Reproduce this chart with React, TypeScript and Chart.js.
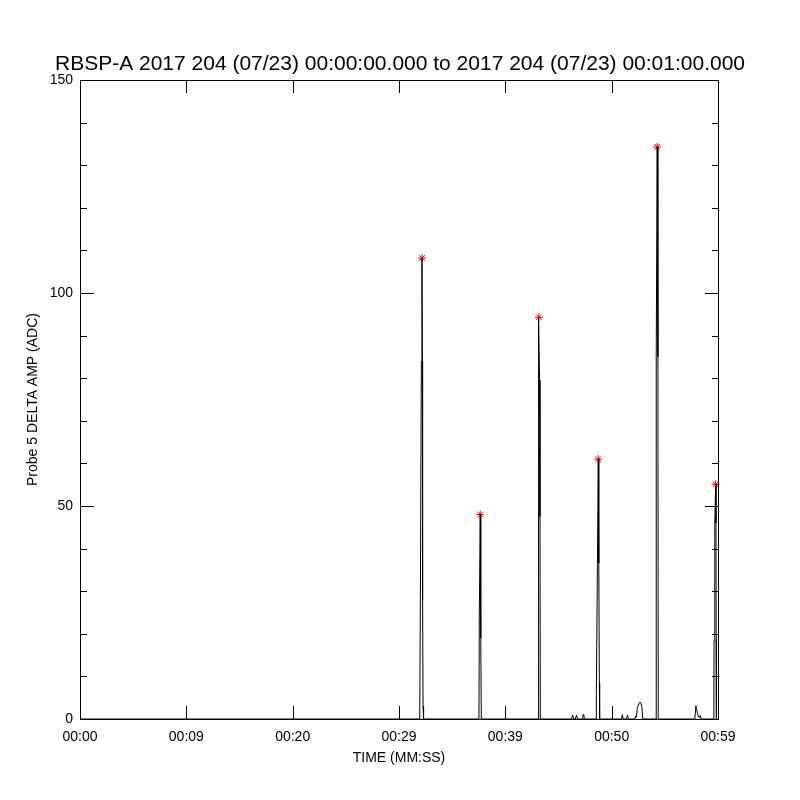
import React, { useEffect, useRef } from "react";
import { Chart, registerables } from "chart.js";

Chart.register(...registerables);

// ---- data (seconds after 00:00:00, amplitude in ADC) ----
const traceTimes = [
  0, 31.95, 32.01, 32.1, 32.16, 32.2, 32.22, 32.26, 32.31,
  37.52, 37.55, 37.64, 37.69, 37.74,
  43.08, 43.09, 43.16, 43.22, 43.26, 43.29,
  46.22, 46.33, 46.43, 46.58, 46.69, 46.79, 47.23, 47.29, 47.38, 47.43,
  48.54, 48.56, 48.66, 48.74, 48.79, 48.84, 48.87,
  50.92, 51.0, 51.09, 51.39, 51.49, 51.58,
  52.18, 52.26, 52.32, 52.41, 52.6, 52.73, 52.83, 52.93,
  54.17, 54.19, 54.28, 54.35, 54.38,
  57.82, 57.92, 57.97, 58.05, 58.15, 58.24, 58.33, 58.42,
  59.61, 59.63, 59.7, 59.78, 59.81, 59.83, 59.85,
];
const traceValues = [
  0, 0, 28, 84, 108.2, 84, 28, 3, 0,
  0, 24, 48, 19, 0,
  0, 47.5, 94.3, 79.6, 47.5, 0,
  0, 0.9, 0, 0, 0.9, 0, 0, 1.0, 1.0, 0,
  0, 6, 36.5, 61, 36.5, 8.4, 0,
  0, 1.0, 0, 0, 0.9, 0,
  0, 0.7, 0.4, 2.5, 3.9, 3.9, 3.0, 0,
  0, 85, 134.3, 85, 0,
  0, 3.1, 2.4, 1.6, 0.6, 0.3, 0.8, 0,
  0, 18.4, 46, 55.1, 46, 18.7, 0,
];
const peakTimes = [32.16, 37.64, 43.16, 48.74, 54.28, 59.78];
const peakValues = [108.2, 48, 94.3, 61, 134.3, 55.1];

const xTickValues = [0, 10, 20, 30, 40, 50, 60];
const xTickLabels = ["00:00", "00:09", "00:20", "00:29", "00:39", "00:50", "00:59"];
const yMajorTicks = [0, 50, 100, 150];
const yMinorTicks = [10, 20, 30, 40, 60, 70, 80, 90, 110, 120, 130, 140];

const titleText =
  "RBSP-A 2017 204 (07/23) 00:00:00.000 to 2017 204 (07/23) 00:01:00.000";
const xTitle = "TIME (MM:SS)";
const yTitle = "Probe 5 DELTA AMP (ADC)";

const FONT = "'Liberation Sans', Arial, sans-serif";

const framePlugin = {
  id: "idlFrame",
  afterDraw(chart: any) {
    const { ctx, chartArea: a, scales } = chart;
    const xs = scales.x;
    const ys = scales.y;
    ctx.save();
    ctx.strokeStyle = "#000";
    ctx.lineWidth = 1;
    ctx.strokeRect(a.left + 0.5, a.top + 0.5, a.right - a.left, a.bottom - a.top);
    const seg = (x1: number, y1: number, x2: number, y2: number) => {
      ctx.beginPath();
      ctx.moveTo(x1, y1);
      ctx.lineTo(x2, y2);
      ctx.stroke();
    };
    const yt = (v: number, len: number) => {
      const p = Math.round(ys.getPixelForValue(v)) + 0.5;
      seg(a.left, p, a.left + len, p);
      seg(a.right + 1, p, a.right + 1 - len, p);
    };
    yMajorTicks.forEach((v) => yt(v, 14));
    yMinorTicks.forEach((v) => yt(v, 7));
    xTickValues.forEach((v) => {
      const p = Math.round(xs.getPixelForValue(v)) + 0.5;
      seg(p, a.bottom, p, a.bottom - 13);
      seg(p, a.top, p, a.top + 13);
    });
    ctx.restore();
  },
};

export default function App() {
  const ref = useRef<HTMLCanvasElement | null>(null);
  useEffect(() => {
    if (!ref.current) return;
    Chart.defaults.font.family = FONT;
    Chart.defaults.color = "#000";
    const trace = traceTimes.map((t, i) => ({ x: t, y: traceValues[i] }));
    const peaks = peakTimes.map((t, i) => ({ x: t, y: peakValues[i] }));
    const chart = new Chart(ref.current, {
      type: "line",
      data: {
        datasets: [
          {
            data: trace,
            borderColor: "#000",
            borderWidth: 1,
            pointRadius: 0,
            tension: 0,
            fill: false,
          },
          {
            type: "scatter",
            data: peaks,
            pointStyle: "star",
            pointRadius: 4,
            borderColor: "#ff0000",
            backgroundColor: "#ff0000",
            borderWidth: 1,
            clip: false,
          } as any,
        ],
      },
      options: {
        responsive: false,
        devicePixelRatio: 1,
        animation: false,
        layout: { padding: 0 },
        plugins: {
          legend: { display: false },
          tooltip: { enabled: false },
          title: {
            display: true,
            text: titleText,
            color: "#000",
            font: { size: 21, weight: "normal", family: FONT },
            padding: { top: 52, bottom: 2.8 },
          },
        },
        scales: {
          x: {
            type: "linear",
            position: "bottom",
            min: 0,
            max: 60,
            grid: { display: false, drawTicks: false },
            border: { display: false },
            afterBuildTicks: (s: any) => {
              s.ticks = xTickValues.map((v) => ({ value: v }));
            },
            afterFit: (s: any) => {
              s.height = 81;
            },
            ticks: {
              autoSkip: false,
              maxRotation: 0,
              padding: 10,
              font: { size: 14, family: FONT },
              callback: (_v: any, i: number) => xTickLabels[i],
            },
            title: {
              display: true,
              text: xTitle,
              font: { size: 14, family: FONT },
              padding: { top: 0, bottom: 33 },
            },
          },
          y: {
            type: "linear",
            position: "left",
            min: 0,
            max: 150,
            grid: { display: false, drawTicks: false },
            border: { display: false },
            afterBuildTicks: (s: any) => {
              s.ticks = yMajorTicks.map((v) => ({ value: v }));
            },
            afterFit: (s: any) => {
              s.width = 80;
            },
            ticks: {
              padding: 7,
              font: { size: 14, family: FONT },
            },
            title: {
              display: true,
              text: yTitle,
              font: { size: 14, family: FONT },
              padding: { top: 25, bottom: 0 },
            },
          },
          y2: {
            type: "linear",
            position: "right",
            display: true,
            min: 0,
            max: 150,
            grid: { display: false, drawTicks: false },
            border: { display: false },
            ticks: { display: false },
            afterFit: (s: any) => {
              s.width = 82;
            },
          },
        },
      },
      plugins: [framePlugin],
    });
    return () => chart.destroy();
  }, []);
  return (
    <div style={{ position: "absolute", left: 0, top: 0, width: 800, height: 800, background: "#fff" }}>
      <canvas ref={ref} width={800} height={800} />
    </div>
  );
}
